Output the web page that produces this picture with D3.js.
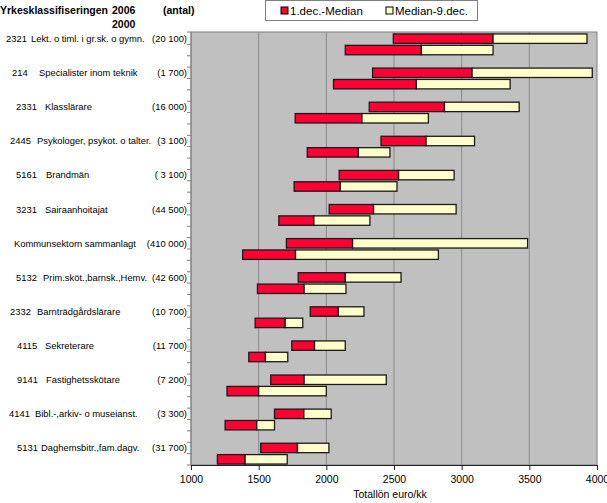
<!DOCTYPE html>
<html lang="sv">
<head>
    <meta charset="UTF-8">
    <title>Totallön euro/kk</title>
    <style>
        body {
            margin: 0;
            padding: 0;
            background: #ffffff;
            font-family: "Liberation Sans", Arial, sans-serif;
        }
        svg text { fill: #000; }
    </style>
    <script src="https://d3js.org/d3.v7.min.js"></script>
</head>
<body>
    <div id="chart"></div>

    <script>
        // Yrkesklassifiseringen: code, name and number of employees
        const codes = ["2321", "214", "2331", "2445", "5161", "3231", "", "5132", "2332", "4115", "9141", "4141", "5131"];
        const names = [
            "Lekt. o timl. i gr.sk. o gymn.",
            "Specialister inom teknik",
            "Klasslärare",
            "Psykologer, psykot. o talter.",
            "Brandmän",
            "Sairaanhoitajat",
            "Kommunsektorn sammanlagt",
            "Prim.sköt.,barnsk.,Hemv.",
            "Barnträdgårdslärare",
            "Sekreterare",
            "Fastighetsskötare",
            "Bibl.-,arkiv- o museianst.",
            "Daghemsbitr.,fam.dagv."
        ];
        const counts = ["(20 100)", "(1 700)", "(16 000)", "(3 100)", "( 3 100)", "(44 500)", "(410 000)",
                        "(42 600)", "(10 700)", "(11 700)", "(7 200)", "(3 300)", "(31 700)"];

        // 2006: 1. decile, median, 9. decile
        const dec1_2006   = [2495, 2342, 2317, 2404, 2095, 2021, 1705, 1792, 1881, 1745, 1589, 1617, 1515];
        const median_2006 = [3232, 3077, 2873, 2737, 2534, 2349, 2194, 2140, 2088, 1913, 1836, 1834, 1787];
        const dec9_2006   = [3926, 3965, 3425, 3095, 2944, 2959, 3487, 2552, 2278, 2140, 2443, 2036, 2019];

        // 2000
        const dec1_2000   = [2140, 2053, 1770, 1859, 1762, 1649, 1382, 1491, 1474, 1427, 1266, 1252, 1195];
        const median_2000 = [2702, 2665, 2263, 2236, 2103, 1908, 1772, 1836, 1696, 1550, 1500, 1486, 1400];
        const dec9_2000   = [3232, 3358, 2754, 2470, 2522, 2322, 2828, 2145, 1826, 1715, 2000, 1617, 1711];

        const xTicks = [1000, 1500, 2000, 2500, 3000, 3500, 4000];
        const seriesNames = ["1.dec.-Median", "Median-9.dec."];

        // label column positions (the original was padded with spaces)
        const codeX = [6, 12, 16, 10, 16, 16, 14, 16, 10, 17, 17, 9, 17];
        const nameX = [31, 39, 45, 37, 46, 45, 14, 43, 37, 45, 46, 35, 41];

        const width = 607, height = 503;
        const plot = { left: 191, right: 597, top: 32, bottom: 465 };
        const red = "#ff0033", cream = "#ffffcc";

        const svg = d3.select("#chart").append("svg")
            .attr("width", width)
            .attr("height", height)
            .style("font-family", "'Liberation Sans', Arial, sans-serif");

        // one slot per bar, plus an empty slot between groups
        const slots = [];
        codes.forEach((c, i) => {
            slots.push(i + "|2006", i + "|2000");
            if (i < codes.length - 1) slots.push(i + "|gap");
        });

        const x = d3.scaleLinear().domain([1000, 4000]).range([plot.left, plot.right]);
        const y = d3.scaleBand().domain(slots).range([plot.top + 1, plot.bottom])
            .paddingInner(0.17).paddingOuter(0.085);

        // plot area
        svg.append("rect")
            .attr("x", plot.left).attr("y", plot.top)
            .attr("width", plot.right - plot.left).attr("height", plot.bottom - plot.top)
            .attr("fill", "#c0c0c0")
            .attr("stroke", "#808080").attr("stroke-width", 1);

        // gridlines
        svg.append("g").selectAll("line")
            .data(xTicks.slice(1, -1))
            .join("line")
            .attr("x1", d => x(d)).attr("x2", d => x(d))
            .attr("y1", plot.top).attr("y2", plot.bottom)
            .attr("stroke", "#8a8a8a").attr("stroke-width", 1);

        // bars
        const rows = [];
        codes.forEach((c, i) => {
            rows.push({ key: i + "|2006", d1: dec1_2006[i], med: median_2006[i], d9: dec9_2006[i] });
            rows.push({ key: i + "|2000", d1: dec1_2000[i], med: median_2000[i], d9: dec9_2000[i] });
        });

        const bars = svg.append("g");
        bars.selectAll("rect.low")
            .data(rows)
            .join("rect")
            .attr("class", "low")
            .attr("x", d => x(d.d1))
            .attr("y", d => y(d.key))
            .attr("width", d => x(d.med) - x(d.d1))
            .attr("height", y.bandwidth())
            .attr("fill", red)
            .attr("stroke", "#1a1a1a").attr("stroke-width", 1.3);

        bars.selectAll("rect.high")
            .data(rows)
            .join("rect")
            .attr("class", "high")
            .attr("x", d => x(d.med))
            .attr("y", d => y(d.key))
            .attr("width", d => x(d.d9) - x(d.med))
            .attr("height", y.bandwidth())
            .attr("fill", cream)
            .attr("stroke", "#1a1a1a").attr("stroke-width", 1.3);

        // x axis
        const xAxis = svg.append("g")
            .attr("transform", `translate(0,${plot.bottom})`)
            .call(d3.axisBottom(x).tickValues(xTicks).tickSize(5).tickSizeOuter(0).tickFormat(d3.format("d")));
        xAxis.select(".domain").attr("stroke", "#222");
        xAxis.selectAll(".tick line").attr("stroke", "#222");
        xAxis.selectAll(".tick text")
            .attr("y", 11)
            .style("font-size", "10.5px")
            .style("font-family", "'Liberation Sans', Arial, sans-serif");

        svg.append("text")
            .attr("x", (plot.left + plot.right) / 2 - 4)
            .attr("y", 498)
            .attr("text-anchor", "middle")
            .style("font-size", "10.5px")
            .text("Totallön euro/kk");

        // y axis line and ticks between slots
        const step = y.step();
        const bounds = [plot.top].concat(slots.slice(0, -1).map(k => y(k) + y.bandwidth() + (step - y.bandwidth()) / 2), [plot.bottom]);
        svg.append("line")
            .attr("x1", plot.left).attr("x2", plot.left)
            .attr("y1", plot.top).attr("y2", plot.bottom)
            .attr("stroke", "#808080");
        svg.append("g").selectAll("line")
            .data(bounds)
            .join("line")
            .attr("x1", plot.left - 4).attr("x2", plot.left)
            .attr("y1", d => d).attr("y2", d => d)
            .attr("stroke", "#808080");

        // category labels, aligned with the 2006 bar
        const labels = svg.append("g").style("font-size", "9.4px");
        codes.forEach((c, i) => {
            const cy = y(i + "|2006") + y.bandwidth() / 2 + 3.3;
            if (c) labels.append("text").attr("x", codeX[i]).attr("y", cy).text(c);
            labels.append("text").attr("x", nameX[i]).attr("y", cy).text(names[i]);
            labels.append("text").attr("x", 187).attr("y", cy)
                .attr("text-anchor", "end")
                .attr("xml:space", "preserve")
                .style("white-space", "pre")
                .text(counts[i]);
        });

        // header
        const head = svg.append("g").style("font-size", "10.5px").style("font-weight", "bold");
        head.append("text").attr("x", 0).attr("y", 14).text("Yrkesklassifiseringen");
        head.append("text").attr("x", 112).attr("y", 14).text("2006");
        head.append("text").attr("x", 112).attr("y", 28).text("2000");
        head.append("text").attr("x", 163).attr("y", 14).text("(antal)");

        // legend
        const legend = svg.append("g");
        legend.append("rect")
            .attr("x", 265.5).attr("y", 0.5).attr("width", 212).attr("height", 20)
            .attr("fill", "#fff").attr("stroke", "#808080");
        const legendX = [281, 386];
        [red, cream].forEach((col, i) => {
            legend.append("rect")
                .attr("x", legendX[i]).attr("y", 7).attr("width", 7).attr("height", 7)
                .attr("fill", col).attr("stroke", "#000").attr("stroke-width", 1);
            legend.append("text")
                .attr("x", legendX[i] + 9).attr("y", 15)
                .style("font-size", "11.5px")
                .text(seriesNames[i]);
        });
    </script>
</body>
</html>
